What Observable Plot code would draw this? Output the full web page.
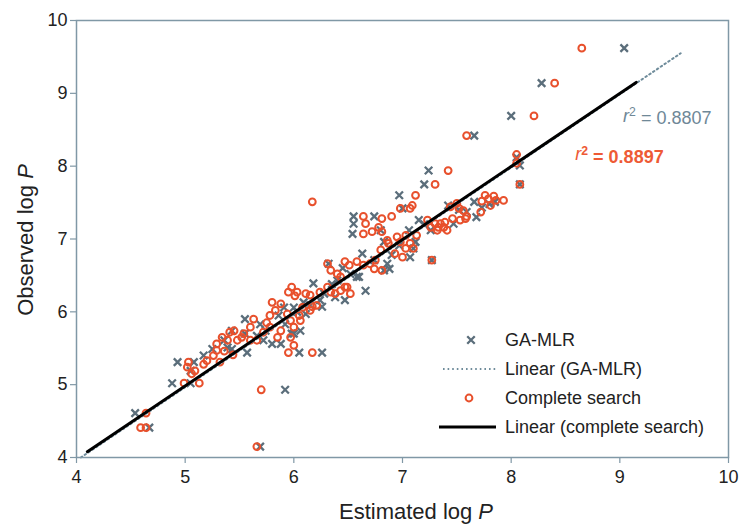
<!DOCTYPE html>
<html>
<head>
<meta charset="utf-8">
<script src="https://cdn.jsdelivr.net/npm/d3@7"></script>
<script src="https://cdn.jsdelivr.net/npm/@observablehq/plot@0.6"></script>
<style>
  body { margin: 0; background: #fff; }
  #chart { width: 742px; height: 524px; }
</style>
</head>
<body>
<div id="chart"></div>
<script>
// ---- Data ----
const xTicks = [4, 5, 6, 7, 8, 9, 10];
const yTicks = [4, 5, 6, 7, 8, 9, 10];

const gaX = [9.04,8.28,8.00,7.66,8.08,8.08,7.24,7.20,6.97,7.00,6.55,6.74,6.54,6.80,6.55,
  7.66,7.68,7.85,7.59,7.47,7.42,7.15,7.26,7.06,7.12,7.07,6.97,6.83,6.86,6.83,6.63,6.60,6.66,6.74,
  6.32,6.40,6.18,6.24,6.47,6.38,6.09,6.00,6.11,5.91,6.06,5.98,5.86,5.74,5.69,5.55,5.88,5.80,5.72,
  5.55,5.57,5.43,5.36,5.39,5.25,5.17,5.43,5.92,6.00,6.26,6.15,6.05,6.26,5.92,4.88,5.05,4.93,5.08,
  4.54,4.67,5.69,5.05,6.52,6.45,6.35,6.58,6.88,7.10,7.20,7.27,7.73,7.80,7.52,6.90,6.28,6.03,5.66,8.05];
const gaY = [9.62,9.14,8.69,8.42,8.01,7.75,7.94,7.75,7.60,7.42,7.31,7.31,7.07,7.12,7.21,
  7.51,7.30,7.51,7.37,7.21,7.46,7.26,7.12,7.12,6.96,6.75,6.91,6.96,6.66,6.57,6.80,6.48,6.29,6.71,
  6.66,6.43,6.39,6.16,6.16,6.20,6.13,6.06,5.97,6.06,5.74,5.70,5.95,5.74,5.83,5.90,5.56,5.56,5.61,
  5.70,5.44,5.49,5.61,5.51,5.49,5.40,5.74,5.83,5.70,6.07,6.09,5.44,5.44,4.93,5.02,5.02,5.31,5.31,
  4.61,4.41,4.15,5.19,6.52,6.60,6.38,6.48,6.59,6.87,7.20,6.71,7.43,7.48,7.40,6.78,6.25,6.00,5.67,8.12];

const csX = [8.65,8.40,8.21,7.59,8.05,8.05,8.08,7.42,7.30,7.12,7.09,7.07,6.17,6.64,6.81,6.90,6.98,6.66,6.78,6.64,6.72,6.81,
  7.44,7.50,7.72,7.76,7.79,7.84,7.86,7.93,7.81,7.73,7.52,7.56,7.59,7.58,7.53,7.46,7.35,7.38,7.23,7.26,7.30,7.33,7.39,7.41,7.32,7.27,
  6.95,6.98,7.03,7.13,7.07,7.03,7.10,7.00,6.93,6.87,6.86,6.80,6.70,6.75,6.81,6.74,6.64,6.58,6.51,6.47,
  6.31,6.40,6.34,6.43,6.31,6.34,6.24,6.38,6.43,6.49,6.52,6.47,6.15,6.11,6.03,5.98,5.95,6.08,6.15,6.05,6.17,6.21,6.01,
  5.80,5.88,5.83,5.78,5.94,5.97,6.00,6.06,
  5.63,5.60,5.54,5.75,5.78,5.88,5.72,5.85,5.97,6.00,5.45,5.48,5.60,5.66,5.52,5.39,5.29,5.34,5.41,5.44,5.36,5.29,5.20,5.17,5.26,5.32,
  5.95,6.17,5.03,5.02,5.09,5.06,4.99,5.13,5.70,4.64,4.59,4.64,5.66];
const csY = [9.62,9.14,8.69,8.42,8.16,8.04,7.75,7.94,7.75,7.60,7.46,7.42,7.51,7.31,7.28,7.31,7.42,7.21,7.16,7.07,7.10,7.10,
  7.44,7.49,7.37,7.60,7.55,7.59,7.53,7.53,7.46,7.52,7.42,7.39,7.31,7.28,7.26,7.28,7.21,7.16,7.26,7.16,7.21,7.16,7.23,7.12,7.12,6.71,
  7.03,6.96,7.05,7.05,6.94,6.87,6.87,6.75,6.80,6.94,6.98,6.85,6.66,6.71,6.57,6.59,6.64,6.69,6.64,6.69,
  6.66,6.52,6.57,6.48,6.34,6.27,6.27,6.25,6.29,6.34,6.25,6.34,6.23,6.25,6.27,6.34,6.27,6.06,6.02,5.95,6.07,6.09,6.22,
  6.13,6.11,6.02,5.95,5.97,5.88,5.79,5.88,
  5.90,5.79,5.70,5.85,5.79,5.74,5.72,5.65,5.65,5.54,5.74,5.61,5.61,5.61,5.65,5.61,5.56,5.65,5.72,5.41,5.46,5.47,5.33,5.28,5.40,5.31,
  5.44,5.44,5.31,5.24,5.19,5.15,5.02,5.02,4.93,4.61,4.41,4.41,4.15];

// Trendline endpoints (as drawn)
const gaTrendX = [4.04, 9.56];
const gaTrendY = [4.00, 9.55];
const csTrendX = [4.10, 9.15];
const csTrendY = [4.08, 9.15];

const r2Labels = ["0.8807", "0.8897"];
const r2X = [9.03, 8.59];
const r2Y = [8.69, 8.16];

const seriesNames = ["GA-MLR", "Linear (GA-MLR)", "Complete search", "Linear (complete search)"];

// ---- Build ----
const GA_COLOR = "#5b6e7b";
const CS_COLOR = "#e8502c";
const FRAME = "#8098a6";
const FONT = "'Liberation Sans', Arial, Helvetica, sans-serif";

const ga = gaX.map((x, i) => ({x, y: gaY[i]}));
const cs = csX.map((x, i) => ({x, y: csY[i]}));
const gaTrend = gaTrendX.map((x, i) => ({x, y: gaTrendY[i]}));
const csTrend = csTrendX.map((x, i) => ({x, y: csTrendY[i]}));
const r2 = r2Labels.map((t, i) => ({t, x: r2X[i], y: r2Y[i], i}));

const plot = Plot.plot({
  width: 742,
  height: 524,
  marginLeft: 76,
  marginRight: 14,
  marginTop: 20,
  marginBottom: 67,
  style: {fontFamily: FONT, background: "#fff", color: "#222"},
  x: {domain: [4, 10], label: null},
  y: {domain: [4, 10], label: null},
  marks: [
    Plot.axisX({ticks: xTicks, tickSize: 6, tickPadding: 7, stroke: FRAME, strokeWidth: 1.2, fontSize: 18, fill: "#222", label: null, tickFormat: d => String(d)}),
    Plot.axisY({ticks: yTicks, tickSize: 6, tickPadding: 3, stroke: FRAME, strokeWidth: 1.2, fontSize: 18, fill: "#222", label: null, tickFormat: d => String(d)}),
    Plot.dot(ga, {x: "x", y: "y", symbol: "times", r: 3.5, stroke: GA_COLOR, strokeWidth: 2.3}),
    Plot.dot(cs, {x: "x", y: "y", symbol: "circle", r: 3.4, stroke: CS_COLOR, strokeWidth: 2, fill: "none"}),
    Plot.line(gaTrend, {x: "x", y: "y", stroke: "#6f8c9b", strokeWidth: 2, strokeDasharray: "1.6,3"}),
    Plot.line(csTrend, {x: "x", y: "y", stroke: "#000", strokeWidth: 3}),
    Plot.text(r2.filter(d => d.i === 0), {x: "x", y: "y", text: d => "r2 = " + d.t, textAnchor: "start", fontSize: 18,
      fill: "#6f8897", className: "r2lab"}),
    Plot.text(r2.filter(d => d.i === 1), {x: "x", y: "y", text: d => "r2 = " + d.t, textAnchor: "start", fontSize: 18,
      fill: "#ee5a35", fontWeight: "bold", className: "r2lab"}),
    Plot.frame({stroke: FRAME, strokeWidth: 1.5})
  ]
});

document.getElementById("chart").appendChild(plot);

// Superscript / italic r in r² labels
const svg = d3.select(plot);
svg.selectAll(".r2lab text").each(function() {
  const el = d3.select(this);
  const txt = el.text().replace(/^r2/, "");
  el.text(null);
  el.append("tspan").attr("font-style", "italic").attr("font-weight", "normal").text("r");
  el.append("tspan").attr("dy", "-0.45em").attr("font-size", "0.68em").text("2");
  el.append("tspan").attr("dy", "0.45em").text(txt);
});

// Axis titles
const xt = svg.append("text").attr("x", 416).attr("y", 519).attr("text-anchor", "middle")
  .attr("font-size", 22).attr("fill", "#222").attr("font-family", FONT);
xt.append("tspan").text("Estimated log ");
xt.append("tspan").attr("font-style", "italic").text("P");
const yt = svg.append("text").attr("transform", "translate(33,240) rotate(-90)").attr("text-anchor", "middle")
  .attr("font-size", 22).attr("fill", "#222").attr("font-family", FONT);
yt.append("tspan").text("Observed log ");
yt.append("tspan").attr("font-style", "italic").text("P");

// Legend
const lg = svg.append("g").attr("font-family", FONT).attr("font-size", 18).attr("fill", "#222")
  .attr("text-anchor", "start");
const rowsY = [340, 369, 398, 427];
lg.append("path").attr("transform", `translate(471,${rowsY[0]})`)
  .attr("d", d3.symbol(d3.symbolTimes, Math.PI * 3.5 * 3.5)())
  .attr("stroke", GA_COLOR).attr("stroke-width", 2.3).attr("fill", "none");
lg.append("line").attr("x1", 443).attr("x2", 497).attr("y1", rowsY[1]).attr("y2", rowsY[1])
  .attr("stroke", "#6f8c9b").attr("stroke-width", 2).attr("stroke-dasharray", "1.6,3");
lg.append("circle").attr("cx", 469).attr("cy", rowsY[2]).attr("r", 3.4)
  .attr("stroke", CS_COLOR).attr("stroke-width", 2).attr("fill", "none");
lg.append("line").attr("x1", 439).attr("x2", 496).attr("y1", rowsY[3]).attr("y2", rowsY[3])
  .attr("stroke", "#000").attr("stroke-width", 3);
seriesNames.forEach((n, i) => {
  lg.append("text").attr("x", 505).attr("y", rowsY[i]).attr("dy", "0.35em")
    .attr("text-anchor", "start").text(n);
});
</script>
</body>
</html>
